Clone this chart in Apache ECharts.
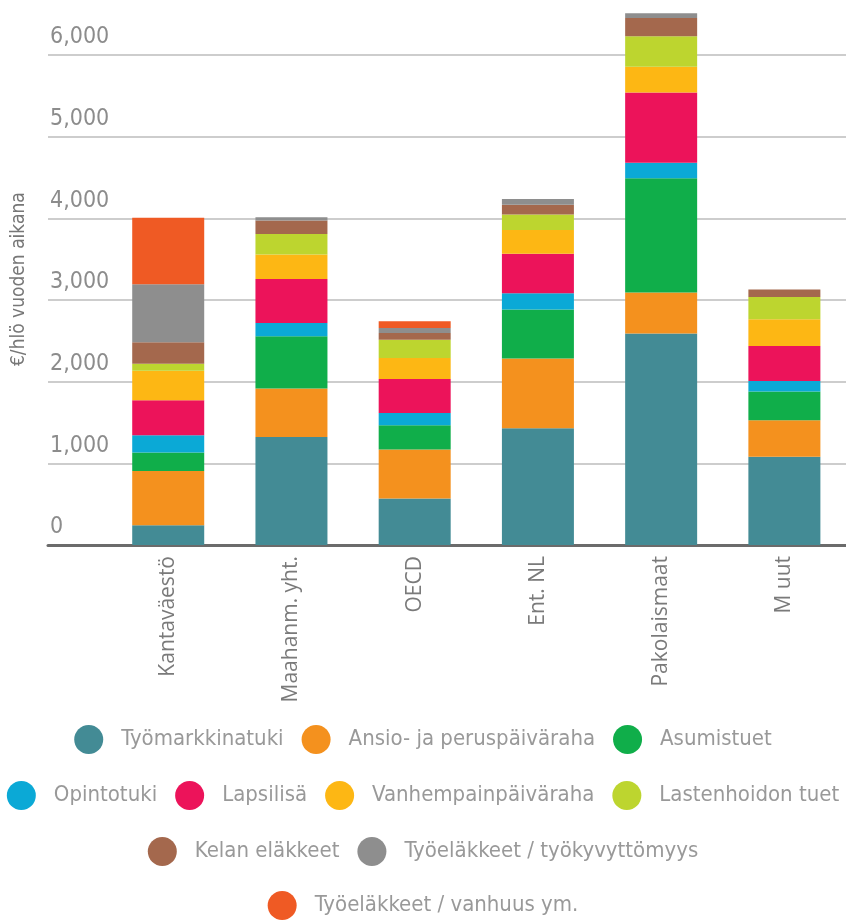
<!DOCTYPE html>
<html>
<head>
<meta charset="utf-8">
<script src="https://cdn.jsdelivr.net/npm/echarts@6/dist/echarts.min.js"></script>
<style>
html,body{margin:0;padding:0;background:#fff;}
#chart{width:846px;height:921px;}
</style>
</head>
<body>
<div id="chart"></div>
<script>
const categories = ['Kantaväestö', 'Maahanm. yht.', 'OECD', 'Ent. NL', 'Pakolaismaat', 'M uut'];
const seriesNames = ['Työmarkkinatuki', 'Ansio- ja peruspäiväraha', 'Asumistuet', 'Opintotuki', 'Lapsilisä', 'Vanhempainpäiväraha', 'Lastenhoidon tuet', 'Kelan eläkkeet', 'Työeläkkeet / työkyvyttömyys', 'Työeläkkeet / vanhuus ym.'];
const tyomarkkinatuki = [240, 1321, 567, 1428, 2585, 1079];
const ansio = [665, 591, 599, 852, 502, 445];
const asumistuet = [227, 640, 298, 598, 1397, 354];
const opintotuki = [210, 163, 151, 200, 188, 127];
const lapsilisa = [429, 538, 415, 481, 860, 428];
const vanhempain = [359, 297, 257, 292, 315, 327];
const lastenhoito = [87, 253, 223, 188, 372, 273];
const kelanElakkeet = [262, 163, 83, 122, 225, 89];
const tyokyvyttomyys = [708, 40, 61, 70, 73, 0];
const vanhuus = [813, 0, 81, 0, 0, 0];
const yTicks = [0, 1000, 2000, 3000, 4000, 5000, 6000];

const seriesValues = [tyomarkkinatuki, ansio, asumistuet, opintotuki, lapsilisa, vanhempain, lastenhoito, kelanElakkeet, tyokyvyttomyys, vanhuus];
const colors = ['#438B95', '#F4911E', '#10AE4A', '#0BA9D6', '#EC135A', '#FDB714', '#BDD52F', '#A4684D', '#8E8E8E', '#EF5A24'];
const legendRows = [[0, 1, 2], [3, 4, 5, 6], [7, 8], [9]];
const legendTops = [720, 776, 832, 886];

const narrow = "'Liberation Sans Narrow', 'DejaVu Sans Condensed', 'Roboto', sans-serif";

const chart = echarts.init(document.getElementById('chart'), null, {renderer: 'canvas'});

const option = {
  backgroundColor: '#ffffff',
  animation: false,
  color: colors,
  grid: [
    {left: 48, right: 0, top: 55, bottom: 376, containLabel: false},
    {left: 106.6, right: 0, top: 13.3, bottom: 376, containLabel: false}
  ],
  xAxis: [
    {gridIndex: 0, type: 'value', min: 0, max: 1,
     axisLine: {show: true, onZero: false, lineStyle: {color: '#6b6b6b', width: 3}},
     axisTick: {show: false}, axisLabel: {show: false}, splitLine: {show: false}},
    {gridIndex: 1, type: 'category', data: categories,
     axisLine: {show: false}, axisTick: {show: false},
     axisLabel: {rotate: 90, margin: 11, fontSize: 21, color: '#7a7a7a', fontFamily: "'Open Sans', sans-serif"}}
  ],
  yAxis: [
    {gridIndex: 0, type: 'value', min: yTicks[0], max: yTicks[yTicks.length - 1], interval: 1000,
     axisLine: {show: false}, axisTick: {show: false},
     splitLine: {show: true, lineStyle: {color: '#bdbdbd', width: 1.5}},
     axisLabel: {inside: true, align: 'left', verticalAlign: 'bottom', margin: 2, padding: [0, 0, 6, 0],
       fontSize: 23, color: '#8c8c8c', fontFamily: narrow,
       formatter: v => v.toLocaleString('en-US')}},
    {gridIndex: 1, type: 'value', min: 0, max: 6500,
     axisLine: {show: false}, axisTick: {show: false}, axisLabel: {show: false}, splitLine: {show: false},
     name: '€/hlö vuoden aikana', nameLocation: 'middle', nameRotate: 90, nameGap: 78,
     nameTextStyle: {fontSize: 19, color: '#777777', fontFamily: narrow}}
  ],
  legend: legendRows.map((row, i) => ({
    show: true,
    left: 'center',
    top: legendTops[i],
    icon: 'circle',
    itemWidth: 29,
    itemHeight: 29,
    itemGap: 18,
    selectedMode: false,
    data: row.map(k => seriesNames[k]),
    textStyle: {fontSize: 22, color: '#999999', fontFamily: narrow, padding: [0, 0, 0, 13]}
  })),
  series: seriesNames.map((name, k) => ({
    name: name,
    type: 'bar',
    stack: 'total',
    xAxisIndex: 1,
    yAxisIndex: 1,
    barWidth: 72,
    itemStyle: {color: colors[k]},
    data: seriesValues[k]
  }))
};
chart.setOption(option);
</script>
</body>
</html>
